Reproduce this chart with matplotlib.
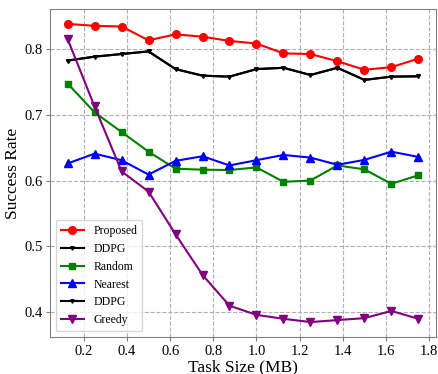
import matplotlib
matplotlib.use("Agg")
import matplotlib.pyplot as plt
import numpy as np

plt.rcParams['font.family'] = ['Liberation Serif', 'DejaVu Serif']

task_size = [0.125, 0.25, 0.375, 0.5, 0.625, 0.75, 0.875, 1.0, 1.125, 1.25, 1.375, 1.5, 1.625, 1.75]
proposed = [0.839, 0.836, 0.835, 0.814, 0.823, 0.8195, 0.813, 0.809, 0.794, 0.793, 0.782, 0.769, 0.773, 0.786]
ddpg = [0.783, 0.789, 0.793, 0.797, 0.770, 0.760, 0.7585, 0.770, 0.772, 0.761, 0.772, 0.7535, 0.7585, 0.759]
random_ = [0.748, 0.704, 0.674, 0.644, 0.618, 0.6165, 0.616, 0.620, 0.598, 0.600, 0.623, 0.617, 0.595, 0.608]
nearest = [0.626, 0.641, 0.631, 0.609, 0.630, 0.637, 0.623, 0.631, 0.639, 0.635, 0.624, 0.6315, 0.644, 0.636]
greedy = [0.816, 0.713, 0.614, 0.583, 0.518, 0.456, 0.409, 0.395, 0.389, 0.384, 0.387, 0.390, 0.401, 0.389]

fig = plt.figure(figsize=(4.39, 3.74), dpi=100)
ax = fig.add_axes([0.114, 0.099, 0.879, 0.877])

ax.plot(task_size, proposed, color='red', marker='o', markersize=5.5, linewidth=1.5, label='Proposed')
ax.plot(task_size, ddpg, color='black', marker='v', markersize=2.5, linewidth=1.5, label='DDPG')
ax.plot(task_size, random_, color='green', marker='s', markersize=5, linewidth=1.5, label='Random')
ax.plot(task_size, nearest, color='blue', marker='^', markersize=5.5, linewidth=1.5, label='Nearest')
ax.plot(task_size, ddpg, color='black', marker='v', markersize=2.5, linewidth=1.5, label='DDPG')
ax.plot(task_size, greedy, color='purple', marker='v', markersize=5.5, linewidth=1.5, label='Greedy')

ax.set_xlabel('Task Size (MB)', fontsize=12.5, labelpad=1)
ax.set_ylabel('Success Rate', fontsize=12.5, labelpad=2)
ax.set_xticks([0.2, 0.4, 0.6, 0.8, 1.0, 1.2, 1.4, 1.6, 1.8])
ax.set_yticks([0.4, 0.5, 0.6, 0.7, 0.8])
ax.tick_params(labelsize=10.5, color='gray', length=3, pad=2.5)
ax.grid(True, linestyle='--', color='#b0b0b0', linewidth=0.8)
for s in ax.spines.values():
    s.set_color('gray')

ax.legend(loc='lower left', fontsize=8.5)

plt.savefig('out.png', dpi=100)
